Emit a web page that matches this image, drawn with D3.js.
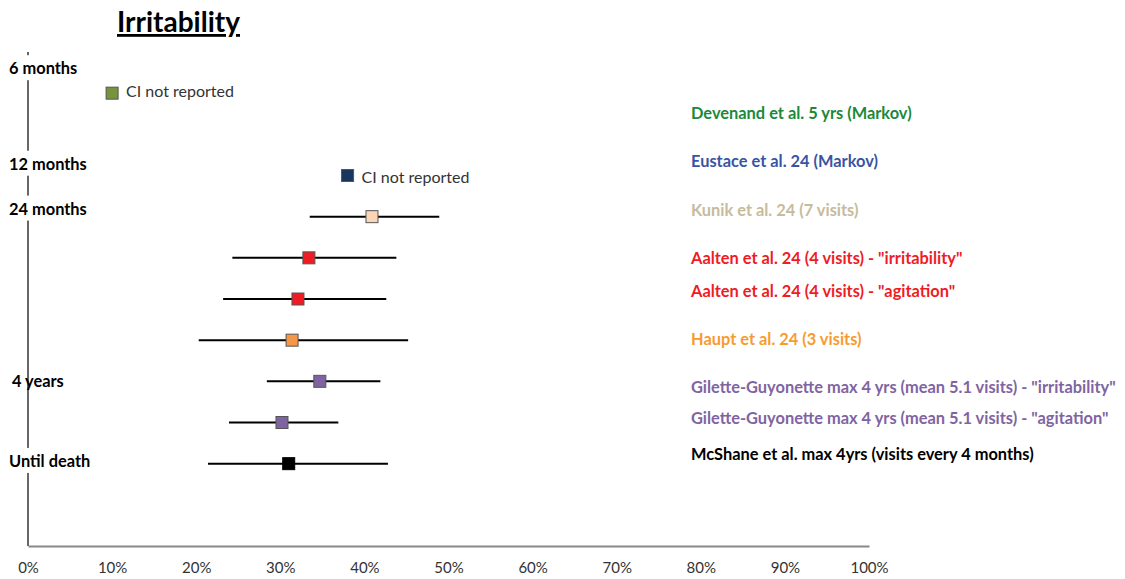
<!DOCTYPE html>
<html><head><meta charset="utf-8">
<script src="https://cdn.jsdelivr.net/npm/d3@7"></script>
<style>body{margin:0;background:#fff;}svg{display:block;font-family:Lato,"Open Sans",sans-serif;}</style>
</head><body><svg id="c" width="1125" height="579"></svg>
<script>
// ---- data ----
const studies = ["Devenand et al. 5 yrs (Markov)","Eustace et al. 24 (Markov)","Kunik et al. 24 (7 visits)",
 "Aalten et al. 24 (4 visits) - \"irritability\"","Aalten et al. 24 (4 visits) - \"agitation\"","Haupt et al. 24 (3 visits)",
 "Gilette-Guyonette max 4 yrs (mean 5.1 visits) - \"irritability\"","Gilette-Guyonette max 4 yrs (mean 5.1 visits) - \"agitation\"",
 "McShane et al. max 4yrs (visits every 4 months)"];
const rowPos   = [11, 9, 8, 7, 6, 5, 4, 3, 2];
const estimate = [10.0, 38.0, 40.9, 33.4, 32.1, 31.4, 34.7, 30.2, 31.0];
const ciLow    = [null, null, 33.5, 24.3, 23.2, 20.3, 28.4, 23.9, 21.4];
const ciHigh   = [null, null, 48.9, 43.8, 42.6, 45.2, 41.9, 36.9, 42.8];
const timeLabels = ["6 months","12 months","24 months","4 years","Until death"];
const timePos    = [11.6, 9.28, 8.19, 4.0, 2.06];
const xTicks = [0,10,20,30,40,50,60,70,80,90,100];
const legendPos = [10.52, 9.35, 8.16, 7.0, 6.19, 5.03, 3.86, 3.11, 2.23];
const markerFill = ["#77933c","#17375e","#fcd5b4","#ee1c25","#ee1c25","#f79646","#8064a2","#8064a2","#000000"];
const textFill   = ["#1a8a3a","#3a54a4","#c6bb9d","#ee1c25","#ee1c25","#f79b30","#8064a2","#8064a2","#000000"];

const svg = d3.select("#c");
const x = d3.scaleLinear().domain([0,100]).range([28,869]);
const y = d3.scaleLinear().domain([0,12]).range([546,52]);

// title
svg.append("text").attr("x",117).attr("y",32).attr("font-size",28).attr("font-weight","bold")
  .attr("text-decoration","underline").attr("fill","#000").text("Irritability");

// vertical axis line
svg.append("line").attr("x1",x(0)).attr("x2",x(0)).attr("y1",y(12)).attr("y2",y(0))
  .attr("stroke","#000").attr("stroke-width",1.2);

// x axis
const xa = svg.append("g").attr("transform",`translate(0,${y(0)})`)
  .call(d3.axisBottom(x).tickValues(xTicks).tickFormat(d=>d+"%").tickSize(0).tickPadding(16));
xa.select(".domain").attr("stroke","#888").attr("stroke-width",2);
xa.selectAll("text").attr("font-size",15).attr("fill","#333").attr("font-family","Lato, sans-serif");

// time labels with white background
const tl = svg.append("g");
timeLabels.forEach((t,i)=>{
  const g = tl.append("g");
  const tx = g.append("text").attr("x", i===3?12:9).attr("y", y(timePos[i])).attr("dy","0.35em")
    .attr("font-size",16.4).attr("font-weight","bold").attr("fill","#000").text(t);
  const bb = tx.node().getBBox();
  if(i!==3) g.insert("rect","text").attr("x",bb.x-1).attr("y",bb.y-3).attr("width",bb.width+2).attr("height",bb.height+6).attr("fill","#fff");
});

// CI lines
svg.append("g").selectAll("line").data(studies.map((s,i)=>i).filter(i=>ciLow[i]!==null)).join("line")
  .attr("x1",i=>x(ciLow[i])).attr("x2",i=>x(ciHigh[i])).attr("y1",i=>y(rowPos[i])).attr("y2",i=>y(rowPos[i]))
  .attr("stroke","#000").attr("stroke-width",2);

// markers
const s = 12;
svg.append("g").selectAll("rect").data(studies.map((d,i)=>i)).join("rect")
  .attr("x",i=>x(estimate[i])-s/2).attr("y",i=>y(rowPos[i])-s/2).attr("width",s).attr("height",s)
  .attr("fill",i=>markerFill[i]).attr("stroke",i=>i===8?"#000":"#555").attr("stroke-width",1);

// CI not reported
studies.forEach((d,i)=>{
  if(ciLow[i]===null){
    svg.append("text").attr("x",x(estimate[i])+14).attr("y",y(rowPos[i])).attr("dy",i===0?"0.25em":"0.45em")
      .attr("font-size",16).attr("fill","#333").text("CI not reported");
  }
});

// legend labels
svg.append("g").selectAll("text").data(studies).join("text")
  .attr("x",691).attr("y",(d,i)=>y(legendPos[i])).attr("dy","0.35em")
  .attr("font-size",16.4).attr("font-weight","bold").attr("fill",(d,i)=>textFill[i]).text(d=>d);
</script></body></html>
